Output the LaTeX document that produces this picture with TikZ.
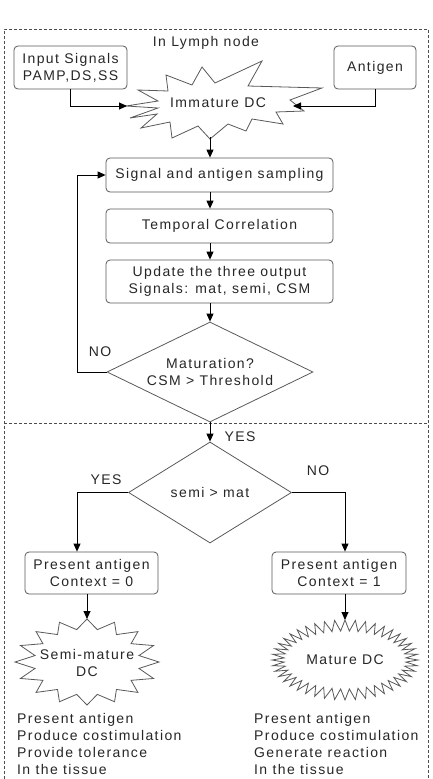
\documentclass[tikz,border=0pt]{standalone}
\usepackage{fontspec}
\setmainfont{Liberation Sans}[LetterSpace=10]
\usetikzlibrary{arrows.meta,shapes.geometric}
\begin{document}
\begin{tikzpicture}[x=1pt,y=-1pt,
  every node/.style={font=\fontsize{14}{17}\selectfont, inner sep=0pt, text=black!85},
  box/.style={draw=black!65, line width=0.8pt, rounded corners=4pt, align=center},
  dia/.style={draw=black!65, line width=0.8pt, shape=diamond, inner sep=0pt},
  starline/.style={draw=black!65, line width=0.8pt, fill=white, line join=miter},
  arr/.style={draw=black, line width=0.9pt, -{Triangle[length=8pt,width=7pt]}},
  border/.style={draw=black!70, line width=0.8pt, dash pattern=on 3pt off 2pt},
  lbl/.style={align=center},
  lst/.style={align=left, anchor=north west}]
\useasboundingbox (0,0) rectangle (433,779);
% dashed frame
\draw[border] (4,779) -- (4,29) -- (428,29) -- (428,779);
\draw[border] (4,423) -- (428,423);
\node[lbl] (lymph) at (206,43) {In Lymph node};
% input boxes
\node[box, minimum width=113pt, minimum height=43pt] (inp) at (70.5,67.5) {Input Signals\\PAMP,DS,SS};
\node[box, minimum width=82pt, minimum height=43pt] (ant) at (375,67.5) {Antigen};
% immature DC starburst
\draw[starline] (126,106) -- (158,101) -- (138,90) -- (168,91) -- (166,75) -- (192,85) -- (202,67)
 -- (215,83) -- (262,61) -- (248,86) -- (322,88) -- (290,100) -- (304,111) -- (276,112) -- (283,124)
 -- (252,119) -- (246,131) -- (228,124) -- (210,139) -- (198,126) -- (172,138) -- (170,122)
 -- (141,128) -- (157,114) -- (130,118) -- (158,108) -- cycle;
\node[lbl] (imm) at (218,103) {Immature DC};
\coordinate (immL) at (127,106);
\coordinate (immR) at (293,106);
\coordinate (immB) at (210,137);
% process boxes
\node[box, minimum width=227pt, minimum height=34pt] (sig) at (219.5,175) {Signal and antigen sampling};
\node[box, minimum width=227pt, minimum height=34pt] (tmp) at (219.5,226) {Temporal Correlation};
\node[box, minimum width=227pt, minimum height=43pt] (upd) at (219.5,281.5) {Update the three output\\Signals: mat, semi, CSM};
% decision 1
\node[dia, minimum width=206pt, minimum height=100pt] (dm1) at (210,372) {};
\node[lbl] (dm1t) at (210,371.5) {Maturation?\\CSM {>} Threshold};
\node (no1) at (100,352) {NO};
\coordinate (lp) at (77,372);
% decision 2
\node[dia, minimum width=163pt, minimum height=101pt] (dm2) at (210,492.5) {};
\node (dm2t) at (210,492) {semi {>} mat};
\node (yes1) at (240,437) {YES};
\node (yes2) at (106,480) {YES};
\node (no2) at (318,471) {NO};
\coordinate (yl) at (77,492.5);
\coordinate (nr) at (345,492.5);
% result boxes
\node[box, minimum width=133pt, minimum height=42pt] (b0) at (91.5,573) {Present antigen\\Context = 0};
\node[box, minimum width=134pt, minimum height=42pt] (b1) at (339,573) {Present antigen\\Context = 1};
% semi-mature starburst
\draw[starline] (87,619) \foreach \i in {1,...,31} {
  -- ({87+ifthenelse(isodd(\i),53,72)*cos(90+\i*11.25)}, {662-ifthenelse(isodd(\i),33,43)*sin(90+\i*11.25)}) } -- cycle;
\node[lbl] (semi) at (87,663) {Semi-mature\\DC};
\coordinate (semiT) at (87,619);
% mature starburst
\draw[starline] (345,620) \foreach \i in {1,...,87} {
  -- ({345+ifthenelse(isodd(\i),61,73)*cos(90+\i*4.0909)}, {660-ifthenelse(isodd(\i),29,40)*sin(90+\i*4.0909)}) } -- cycle;
\node[lbl] (mat) at (345,660) {Mature DC};
\coordinate (matT) at (345,620);
% lists
\node[lst] (l0) at (17,713) {Present antigen\\Produce costimulation\\Provide tolerance\\In the tissue};
\node[lst] (l1) at (254,713) {Present antigen\\Produce costimulation\\Generate reaction\\In the tissue};
% connectors
\draw[arr] (inp.south) |- (immL);
\draw[arr] (ant.south) |- (immR);
\draw[arr] (immB) -- (immB |- sig.north);
\draw[arr] (dm1.north |- sig.south) -- (dm1.north |- tmp.north);
\draw[arr] (dm1.north |- tmp.south) -- (dm1.north |- upd.north);
\draw[arr] (dm1.north |- upd.south) -- (dm1.north);
\draw[arr] (dm1.west) -- (lp) |- (sig.west);
\draw[arr] (dm1.south) -- (dm2.north);
\draw[arr] (dm2.west) -- (yl) -- (yl |- b0.north);
\draw[arr] (dm2.east) -- (nr) -- (nr |- b1.north);
\draw[arr] (semiT |- b0.south) -- (semiT);
\draw[arr] (matT |- b1.south) -- (matT);
\end{tikzpicture}
\end{document}
